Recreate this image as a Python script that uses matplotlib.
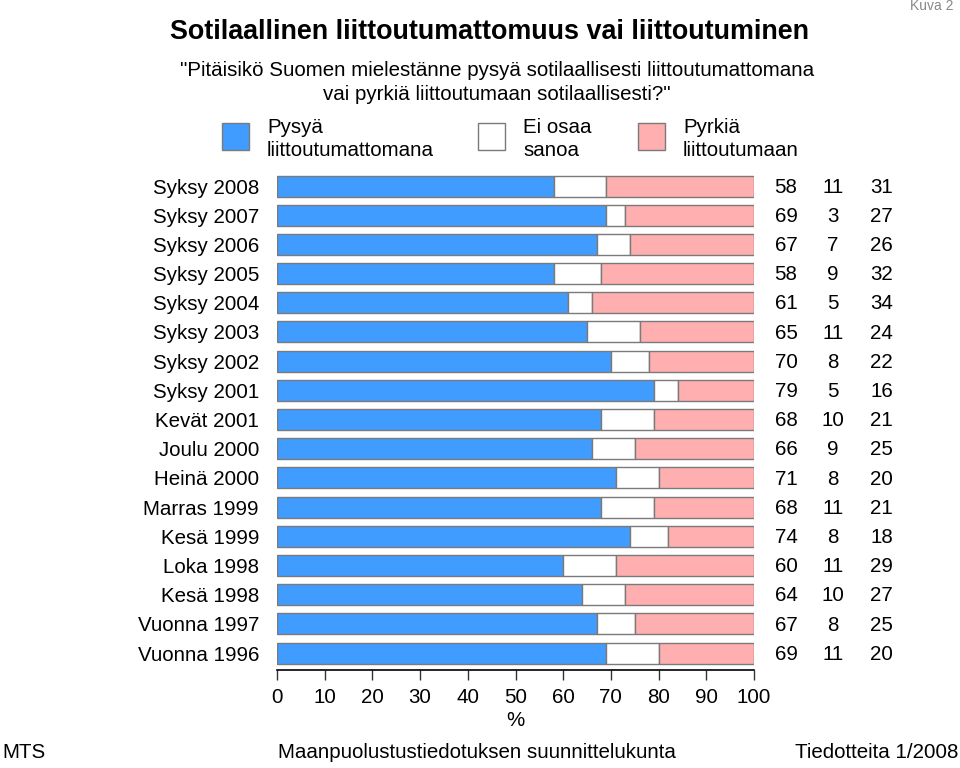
import numpy as np
import matplotlib.pyplot as plt

plt.rcParams['font.family'] = ['Liberation Sans', 'DejaVu Sans']

labels = ['Syksy 2008', 'Syksy 2007', 'Syksy 2006', 'Syksy 2005', 'Syksy 2004',
          'Syksy 2003', 'Syksy 2002', 'Syksy 2001', 'Kevät 2001', 'Joulu 2000',
          'Heinä 2000', 'Marras 1999', 'Kesä 1999', 'Loka 1998', 'Kesä 1998',
          'Vuonna 1997', 'Vuonna 1996']
stay = [58, 69, 67, 58, 61, 65, 70, 79, 68, 66, 71, 68, 74, 60, 64, 67, 69]
dont_know = [11, 3, 7, 9, 5, 11, 8, 5, 10, 9, 8, 11, 8, 11, 10, 8, 11]
join = [31, 27, 26, 32, 34, 24, 22, 16, 21, 25, 20, 21, 18, 29, 27, 25, 20]

BLUE = '#409cff'
PINK = '#ffafaf'
EDGE = '#7a7a7a'
FS = 14.8

fig = plt.figure(figsize=(9.6, 7.68), dpi=100)
ax = fig.add_axes([277 / 960, 98 / 768, 477 / 960, 501.5 / 768])

y = np.arange(len(labels))
h = 0.72
stay_a = np.array(stay)
join_a = np.array(join)
ax.barh(y, stay_a, height=h, color=BLUE, edgecolor=EDGE, linewidth=1)
ax.barh(y, (100 - join_a) - stay_a, left=stay_a, height=h, color='white',
        edgecolor=EDGE, linewidth=1)
ax.barh(y, join_a, left=100 - join_a, height=h, color=PINK, edgecolor=EDGE, linewidth=1)

ax.set_xlim(0, 100)
ax.set_ylim(len(labels) - 1 + 0.58, -0.6)
ax.set_yticks(y)
ax.set_yticklabels(labels, fontsize=FS)
ax.tick_params(axis='y', length=0, pad=13)
ax.set_xticks(np.arange(0, 101, 10))
ax.tick_params(axis='x', labelsize=FS, length=7, width=1, pad=6, color='#333333')
ax.set_xlabel('%', fontsize=FS, labelpad=3)
for s in ['top', 'right', 'left']:
    ax.spines[s].set_visible(False)
ax.spines['bottom'].set_linewidth(1.2)

# value columns on the right
for i in range(len(labels)):
    for xv, val in zip([106.7, 116.6, 126.8], [stay[i], dont_know[i], join[i]]):
        ax.text(xv, i + 0.04, str(val), ha='center', va='center', fontsize=FS, clip_on=False)

# titles
fig.text(170 / 960, 1 - 32 / 768, 'Sotilaallinen liittoutumattomuus vai liittoutuminen',
         fontsize=19.4, fontweight='bold', va='center', ha='left')
fig.text(497 / 960, 1 - 71 / 768, '"Pitäisikö Suomen mielestänne pysyä sotilaallisesti liittoutumattomana',
         fontsize=FS, ha='center', va='center')
fig.text(497 / 960, 1 - 95 / 768, 'vai pyrkiä liittoutumaan sotilaallisesti?"',
         fontsize=FS, ha='center', va='center')
fig.text(953 / 960, 1 - 6 / 768, 'Kuva 2', fontsize=10, color='#888888', ha='right', va='center')

# legend
legend_items = [(222, BLUE, 'Pysyä\nliittoutumattomana'),
                (478, 'white', 'Ei osaa\nsanoa'),
                (638, PINK, 'Pyrkiä\nliittoutumaan')]
for x0, col, txt in legend_items:
    fig.patches.append(plt.Rectangle((x0 / 960, 1 - 150 / 768), 27 / 960, 27 / 768,
                                     transform=fig.transFigure, facecolor=col,
                                     edgecolor=EDGE, linewidth=1))
    fig.text((x0 + 45) / 960, 1 - 139 / 768, txt, fontsize=FS, ha='left', va='center',
             linespacing=1.25)

# footer
fig.text(2 / 960, 1 - 753 / 768, 'MTS', fontsize=FS, ha='left', va='center')
fig.text(477 / 960, 1 - 753 / 768, 'Maanpuolustustiedotuksen suunnittelukunta',
         fontsize=FS, ha='center', va='center')
fig.text(958 / 960, 1 - 753 / 768, 'Tiedotteita 1/2008', fontsize=FS, ha='right', va='center')

fig.savefig('out.png', dpi=100)
